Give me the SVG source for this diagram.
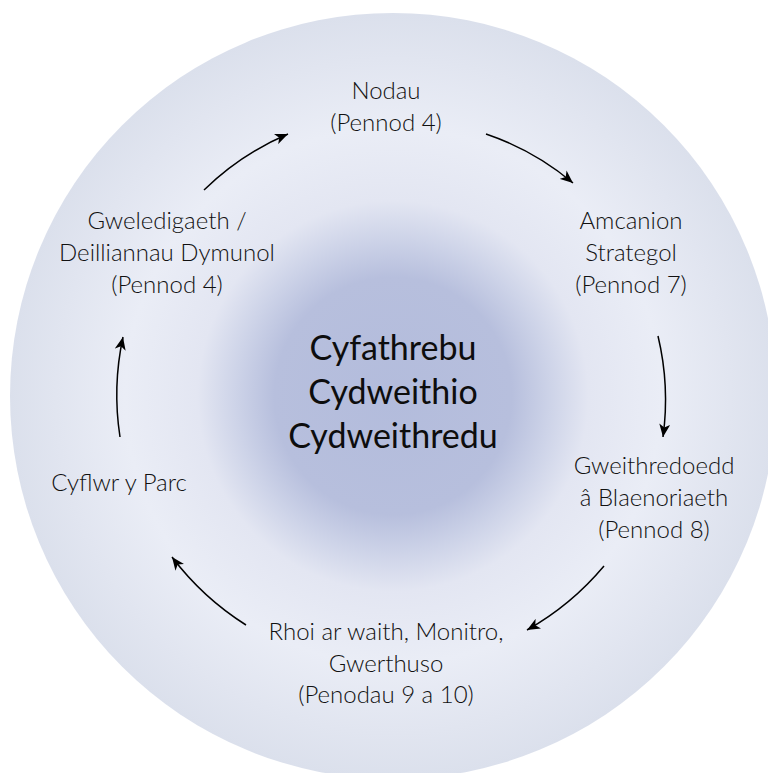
<svg xmlns="http://www.w3.org/2000/svg" width="768" height="773" viewBox="0 0 768 773">
<defs>
<radialGradient id="bg" cx="393" cy="396" r="383" gradientUnits="userSpaceOnUse">
<stop offset="0" stop-color="#b3bcdc"/>
<stop offset="0.31" stop-color="#b7bfdd"/>
<stop offset="0.41" stop-color="#cdd3e8"/>
<stop offset="0.51" stop-color="#e3e6f2"/>
<stop offset="0.7" stop-color="#eaedf6"/>
<stop offset="0.88" stop-color="#e1e5f0"/>
<stop offset="1" stop-color="#dbe0ec"/>
</radialGradient>
<marker id="ah" markerUnits="userSpaceOnUse" markerWidth="14" markerHeight="11" refX="13" refY="5.5" orient="auto">
<path d="M0,0 L13,5.5 L0,11 L3.5,5.5 Z" fill="#000"/>
</marker>
</defs>
<style>
.lbl{font-family:Lato,"Open Sans","Liberation Sans",sans-serif;font-weight:300;font-size:24px;fill:#111;text-anchor:middle}
.ctr{font-family:Lato,"Open Sans","Liberation Sans",sans-serif;font-weight:400;font-size:34px;fill:#0d0d0d;text-anchor:middle}
.arr{fill:none;stroke:#000;stroke-width:1.5;marker-end:url(#ah)}
</style>
<rect width="768" height="773" fill="#ffffff"/>
<circle cx="393" cy="396" r="383" fill="url(#bg)"/>
<g id="center">
<text class="ctr" x="393" y="360">Cyfathrebu</text>
<text class="ctr" x="393" y="404">Cydweithio</text>
<text class="ctr" x="393" y="448">Cydweithredu</text>
</g>
<g id="nodau">
<text class="lbl" x="386" y="99">Nodau</text>
<text class="lbl" x="386" y="131">(Pennod 4)</text>
</g>
<g id="amcanion">
<text class="lbl" x="631" y="229">Amcanion</text>
<text class="lbl" x="631" y="261">Strategol</text>
<text class="lbl" x="631" y="293">(Pennod 7)</text>
</g>
<g id="gweithredoedd">
<text class="lbl" x="654" y="474">Gweithredoedd</text>
<text class="lbl" x="654" y="506">â Blaenoriaeth</text>
<text class="lbl" x="654" y="538">(Pennod 8)</text>
</g>
<g id="rhoi">
<text class="lbl" x="386" y="640">Rhoi ar waith, Monitro,</text>
<text class="lbl" x="386" y="672">Gwerthuso</text>
<text class="lbl" x="386" y="703">(Penodau 9 a 10)</text>
</g>
<g id="cyflwr">
<text class="lbl" x="119" y="491">Cyflwr y Parc</text>
</g>
<g id="gweledigaeth">
<text class="lbl" x="167" y="229">Gweledigaeth /</text>
<text class="lbl" x="167" y="261">Deilliannau Dymunol</text>
<text class="lbl" x="167" y="293">(Pennod 4)</text>
</g>
<g id="connectors">
<path class="arr" d="M204,190 A272 272 0 0 1 288,134"/>
<path class="arr" d="M486,134 A272 272 0 0 1 573,183"/>
<path class="arr" d="M658,336 A275 275 0 0 1 663,437"/>
<path class="arr" d="M604,566 A280 280 0 0 1 527,630"/>
<path class="arr" d="M246,625 A280 280 0 0 1 172,557"/>
<path class="arr" d="M120,437 A275 275 0 0 1 123,337"/>
</g>
</svg>
